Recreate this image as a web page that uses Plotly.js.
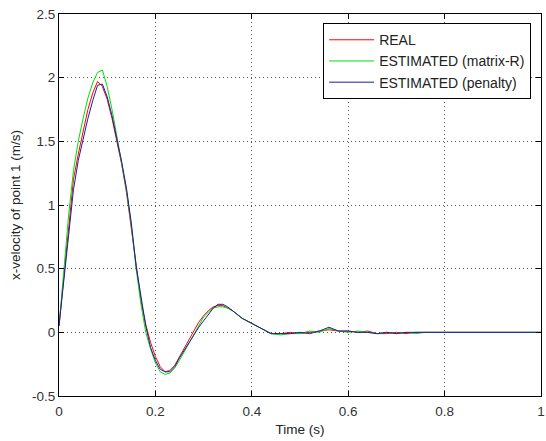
<!DOCTYPE html>
<html>
<head>
<meta charset="utf-8">
<script src="https://cdn.plot.ly/plotly-3.0.1.min.js"></script>
<style>html,body{margin:0;padding:0;background:#fff;}#chart{width:546px;height:441px;}</style>
</head>
<body>
<div id="chart"></div>
<script>
const time = [0,0.01,0.02,0.03,0.04,0.05,0.06,0.07,0.08,0.09,0.10,0.11,0.12,0.13,0.14,0.15,0.16,0.17,0.18,0.19,0.20,0.21,0.22,0.23,0.24,0.25,0.26,0.27,0.28,0.29,0.30,0.31,0.32,0.33,0.34,0.35,0.36,0.37,0.38,0.39,0.40,0.41,0.42,0.43,0.44,0.46,0.48,0.50,0.52,0.54,0.56,0.58,0.60,0.62,0.64,0.66,0.68,0.70,0.72,0.74,0.76,0.78,0.80,0.82,0.90,1.00];
const real = [0.05,0.45,0.85,1.20,1.40,1.58,1.75,1.88,1.97,1.93,1.83,1.68,1.50,1.32,1.10,0.82,0.50,0.25,0.06,-0.08,-0.19,-0.27,-0.31,-0.30,-0.26,-0.19,-0.12,-0.05,0.02,0.08,0.13,0.17,0.20,0.21,0.21,0.19,0.17,0.14,0.11,0.09,0.07,0.05,0.03,0.01,-0.01,-0.01,0.00,-0.01,0.00,0.01,0.02,0.01,0.01,0.00,0.01,-0.01,-0.01,0.00,-0.01,0.00,0.00,0.00,0.00,0.00,0.00,0.00];
const estMatrixR = [0.05,0.50,0.92,1.27,1.50,1.68,1.84,1.96,2.04,2.06,1.93,1.75,1.55,1.35,1.12,0.84,0.50,0.22,0.00,-0.13,-0.24,-0.31,-0.33,-0.32,-0.28,-0.22,-0.15,-0.08,-0.01,0.06,0.12,0.16,0.19,0.20,0.20,0.19,0.17,0.14,0.11,0.09,0.07,0.05,0.03,0.01,-0.01,-0.02,-0.01,-0.01,0.01,0.00,0.03,0.01,0.00,0.01,0.00,-0.01,0.00,-0.01,0.00,-0.01,0.00,0.00,0.00,0.00,0.00,0.00];
const estPenalty = [0.05,0.40,0.78,1.12,1.35,1.52,1.68,1.82,1.94,1.95,1.85,1.70,1.53,1.34,1.13,0.86,0.52,0.28,0.05,-0.12,-0.22,-0.29,-0.31,-0.31,-0.27,-0.20,-0.14,-0.08,-0.01,0.04,0.09,0.14,0.19,0.22,0.22,0.20,0.17,0.14,0.11,0.09,0.07,0.05,0.03,0.01,-0.01,-0.01,-0.01,0.00,-0.01,0.01,0.04,0.01,0.01,0.00,0.00,-0.01,0.00,-0.01,0.00,0.00,0.00,0.00,0.00,0.00,0.00,0.00];
const seriesNames = ['REAL','ESTIMATED (matrix-R)','ESTIMATED (penalty)'];
const xTicks = [0,0.2,0.4,0.6,0.8,1];
const xTickText = ['0','0.2','0.4','0.6','0.8','1'];
const yTicks = [-0.5,0,0.5,1,1.5,2,2.5];
const yTickText = ['-0.5','0','0.5','1','1.5','2','2.5'];

const colors = ['#ff0000','#00e000','#1c1ca8'];
const ys = [real, estMatrixR, estPenalty];
const traces = ys.map((y,i)=>({
  x: time, y: y, type:'scatter', mode:'lines', name: seriesNames[i],
  line:{color:colors[i], width:1}
}));

const FONT = 'Liberation Sans, Arial, sans-serif';
const axisCommon = {
  showline:true, linecolor:'#000', linewidth:1, mirror:'ticks',
  ticks:'inside', ticklen:5, tickcolor:'#000',
  showgrid:true, gridcolor:'#555', griddash:'1px,3px', gridwidth:1,
  zeroline:false, ticklabeloverflow:'allow',
  tickfont:{family:FONT, size:13.5, color:'#333'}
};
const layout = {
  width:546, height:441,
  margin:{l:59, r:5, t:14, b:45},
  paper_bgcolor:'#fff', plot_bgcolor:'#fff',
  font:{family:FONT, size:13.5, color:'#333'},
  xaxis: Object.assign({}, axisCommon, {range:[0,1], tickvals:xTicks, ticktext:xTickText,
    ticklabelstandoff:3,
    title:{text:'Time (s)', standoff:6, font:{size:13.5, color:'#222'}}}),
  yaxis: Object.assign({}, axisCommon, {range:[-0.5,2.5], tickvals:yTicks, ticktext:yTickText,
    title:{text:'x-velocity of point 1 (m/s)', standoff:8, font:{size:13.5, color:'#222'}}}),
  legend:{x:0.548, y:0.976, xanchor:'left', yanchor:'top', bgcolor:'#fff',
    bordercolor:'#000', borderwidth:1, font:{size:14, color:'#222'}, itemwidth:45},
  showlegend:true
};
Plotly.newPlot('chart', traces, layout, {displayModeBar:false, staticPlot:true});
</script>
</body>
</html>
